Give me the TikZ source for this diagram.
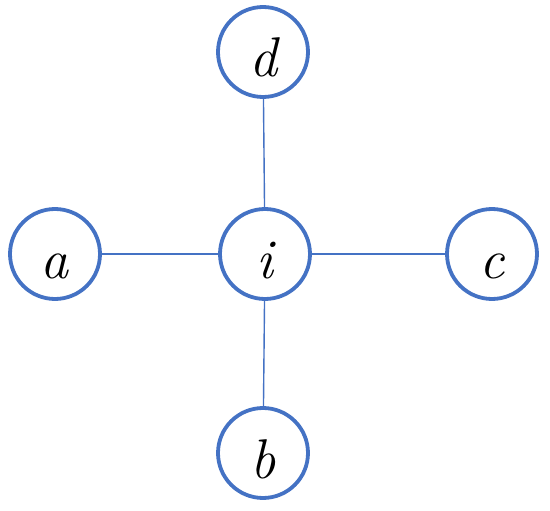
\documentclass[tikz,border=0pt]{standalone}
\usepackage{fontspec}
\definecolor{nodeblue}{HTML}{4472C4}
\begin{document}
\begin{tikzpicture}[x=1pt,y=-1pt,
  vertex/.style={circle,draw=nodeblue,line width=3.8pt,fill=white,minimum size=90pt,inner sep=0pt,
    text height=50pt,text depth=0pt,
    font=\fontsize{56}{56}\selectfont\itshape},
  edge/.style={draw=nodeblue,line width=1.4pt}]
\useasboundingbox (0,0) rectangle (550,511);
\node[vertex] (d) at (263,52) {d};
\node[vertex] (a) at (55,254) {a};
\node[vertex] (i) at (265,254) {i};
\node[vertex] (c) at (492,254) {c};
\node[vertex] (b) at (263,453) {b};
\draw[edge] (d) -- (i);
\draw[edge] (a) -- (i);
\draw[edge] (i) -- (c);
\draw[edge] (i) -- (b);
\end{tikzpicture}
\end{document}
